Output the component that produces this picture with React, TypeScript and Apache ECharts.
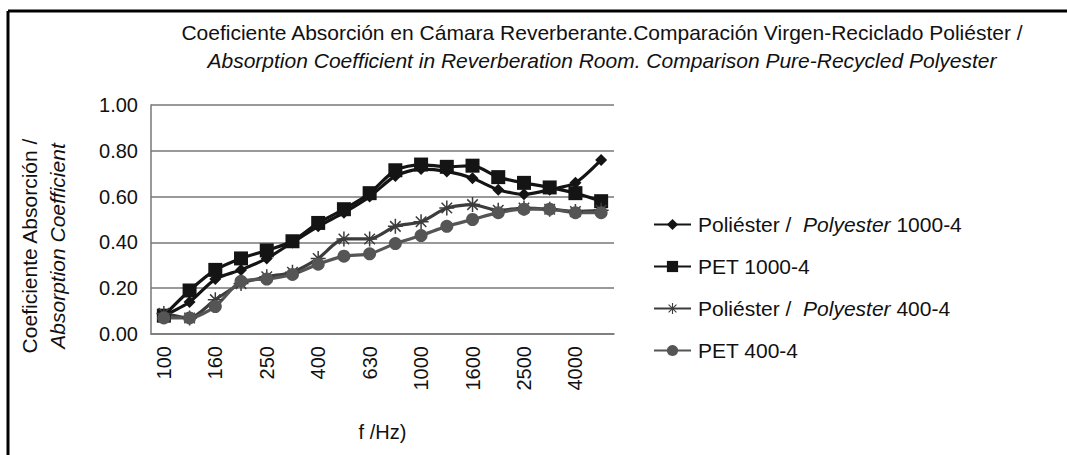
import React, { useEffect, useRef } from "react";
import * as echarts from "echarts";

const categories = ["100", "125", "160", "200", "250", "315", "400", "500", "630", "800", "1000", "1250", "1600", "2000", "2500", "3150", "4000", "5000"];
const polyester1000 = [0.08, 0.14, 0.24, 0.28, 0.33, 0.40, 0.47, 0.53, 0.60, 0.69, 0.72, 0.71, 0.68, 0.63, 0.61, 0.63, 0.66, 0.76];
const pet1000 = [0.08, 0.19, 0.28, 0.33, 0.365, 0.405, 0.485, 0.545, 0.615, 0.715, 0.74, 0.73, 0.735, 0.685, 0.66, 0.64, 0.615, 0.58];
const polyester400 = [0.09, 0.07, 0.15, 0.22, 0.25, 0.27, 0.33, 0.415, 0.415, 0.47, 0.49, 0.55, 0.565, 0.54, 0.55, 0.545, 0.535, 0.54];
const pet400 = [0.07, 0.07, 0.12, 0.23, 0.24, 0.26, 0.305, 0.34, 0.35, 0.395, 0.43, 0.47, 0.50, 0.53, 0.545, 0.545, 0.53, 0.53];
const seriesNames = ["Poliéster / Polyester 1000-4", "PET 1000-4", "Poliéster / Polyester 400-4", "PET 400-4"];
const titleLine1 = "Coeficiente Absorción en Cámara Reverberante.Comparación Virgen-Reciclado Poliéster /";
const titleLine2 = "Absorption Coefficient in Reverberation Room. Comparison Pure-Recycled Polyester";
const yNameLine1 = "Coeficiente Absorción /";
const yNameLine2 = "Absorption Coefficient";
const xName = "f /Hz)";

const FONT = "'Liberation Sans', Arial, sans-serif";
const ASTERISK =
  "path://M-1,-10L1,-10L1,10L-1,10Z M-10,-1L10,-1L10,1L-10,1Z M-6.3,-7.7L7.7,6.3L6.3,7.7L-7.7,-6.3Z M6.3,-7.7L7.7,-6.3L-6.3,7.7L-7.7,6.3Z";

export default function App() {
  const ref = useRef<HTMLDivElement>(null);
  useEffect(() => {
    if (!ref.current) return;
    const chart = echarts.init(ref.current, undefined, { renderer: "svg" });
    const lineSeries = (name: string, data: number[], color: string, symbol: string, size: number) => ({
      name,
      type: "line",
      data,
      smooth: 0.25,
      symbol,
      symbolSize: size,
      showAllSymbol: true,
      lineStyle: { color, width: 3.2 },
      itemStyle: { color, borderWidth: 0 },
    });
    chart.setOption({
      animation: false,
      backgroundColor: "#ffffff",
      textStyle: { fontFamily: FONT },
      title: {
        text: titleLine1 + "\n{it|" + titleLine2 + "}",
        left: 597,
        top: 13,
        textAlign: "center",
        textStyle: {
          fontSize: 21,
          fontWeight: "normal",
          color: "#111",
          lineHeight: 28,
          fontFamily: FONT,
          rich: { it: { fontStyle: "italic", fontSize: 21, lineHeight: 28, color: "#111", fontFamily: FONT } },
        },
      },
      legend: {
        orient: "vertical",
        left: 648,
        top: 209,
        itemWidth: 37,
        itemHeight: 14,
        itemGap: 21,
        data: seriesNames,
        formatter: (name: string) => name.replace("Polyester", " {it|Polyester}"),
        textStyle: {
          fontSize: 21,
          color: "#111",
          lineHeight: 21,
          padding: [0, 0, 0, 2],
          fontFamily: FONT,
          rich: { it: { fontStyle: "italic", fontSize: 21, color: "#111", fontFamily: FONT } },
        },
      },
      grid: { left: 151, right: 453, top: 105, bottom: 121, containLabel: false },
      xAxis: {
        type: "category",
        data: categories,
        boundaryGap: true,
        name: xName,
        nameLocation: "middle",
        nameGap: 88,
        nameTextStyle: { fontSize: 20, color: "#111", fontFamily: FONT },
        axisLine: { lineStyle: { color: "#777", width: 1.5 } },
        axisTick: { show: false },
        axisLabel: { interval: 1, rotate: 90, fontSize: 20, color: "#111", margin: 12, fontFamily: FONT },
      },
      yAxis: {
        type: "value",
        min: 0,
        max: 1,
        interval: 0.2,
        axisLine: { show: true, lineStyle: { color: "#777", width: 1.5 } },
        axisTick: { show: false },
        axisLabel: { formatter: (v: number) => v.toFixed(2), fontSize: 20, color: "#111", margin: 13, fontFamily: FONT },
        splitLine: { lineStyle: { color: "#777", width: 1.5 } },
      },
      graphic: [
        { type: "line", shape: { x1: 8, y1: 11, x2: 1067, y2: 11 }, style: { stroke: "#000", lineWidth: 3 } },
        { type: "line", shape: { x1: 8, y1: 11, x2: 8, y2: 455 }, style: { stroke: "#000", lineWidth: 3 } },
        {
          type: "text",
          x: 29,
          y: 246,
          rotation: Math.PI / 2,
          style: { text: yNameLine1, font: "21px " + FONT, fill: "#111", align: "center", verticalAlign: "middle" },
        },
        {
          type: "text",
          x: 57,
          y: 246,
          rotation: Math.PI / 2,
          style: { text: yNameLine2, font: "italic 21px " + FONT, fill: "#111", align: "center", verticalAlign: "middle" },
        },
      ],
      series: [
        lineSeries(seriesNames[0], polyester1000, "#141414", "diamond", 12),
        lineSeries(seriesNames[1], pet1000, "#141414", "rect", 14),
        lineSeries(seriesNames[2], polyester400, "#3c3c3c", ASTERISK, 15),
        lineSeries(seriesNames[3], pet400, "#555555", "circle", 13),
      ],
    });
    return () => chart.dispose();
  }, []);
  return <div ref={ref} style={{ position: "fixed", left: 0, top: 0, width: 1067, height: 455 }} />;
}
